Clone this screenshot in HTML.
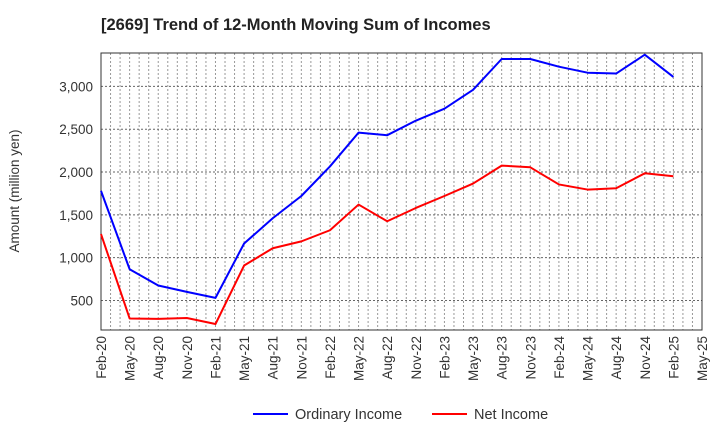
<!DOCTYPE html>
<html><head><meta charset="utf-8"><style>
body{margin:0;background:#fff;font-family:"Liberation Sans",Arial,sans-serif}
svg text{font-family:"Liberation Sans",Arial,sans-serif}
</style></head><body>
<svg width="720" height="440">
<text x="101" y="30" font-size="16.5" font-weight="bold" fill="#222">[2669]  Trend of 12-Month Moving Sum of Incomes</text>
<g id="grid"></g><g id="axes"></g><g id="series"></g>
<text transform="translate(19,191) rotate(-90)" text-anchor="middle" font-size="13.5" fill="#333">Amount (million yen)</text>
<g>
<line x1="253" y1="414" x2="288" y2="414" stroke="#0000ff" stroke-width="2"/>
<text x="295" y="419" font-size="14.5" fill="#333">Ordinary Income</text>
<line x1="432" y1="414" x2="467" y2="414" stroke="#ff0000" stroke-width="2"/>
<text x="474" y="419" font-size="14.5" fill="#333">Net Income</text>
</g>
</svg>
<script>
const categories=["Feb-20","May-20","Aug-20","Nov-20","Feb-21","May-21","Aug-21","Nov-21","Feb-22","May-22","Aug-22","Nov-22","Feb-23","May-23","Aug-23","Nov-23","Feb-24","May-24","Aug-24","Nov-24","Feb-25","May-25"];
const ordinaryIncome=[1780,865,675,600,530,1165,1460,1720,2065,2460,2430,2600,2740,2960,3320,3320,3230,3160,3150,3370,3110];
const netIncome=[1275,290,285,295,225,908,1110,1190,1320,1620,1425,1580,1720,1865,2075,2055,1855,1795,1810,1985,1950];
const yTicks=[500,1000,1500,2000,2500,3000];
const yTickLabels=["500","1,000","1,500","2,000","2,500","3,000"];
const L=101,R=702,T=53,B=330,yMin=155,yMax=3390;
const NS="http://www.w3.org/2000/svg";
const xs=i=>L+(R-L)*i/(categories.length-1);
const ys=v=>B-(v-yMin)/(yMax-yMin)*(B-T);
function mk(tag,attrs,parent){const e=document.createElementNS(NS,tag);for(const k in attrs)e.setAttribute(k,attrs[k]);document.getElementById(parent).appendChild(e);return e;}
const nMonths=(categories.length-1)*3;
for(let m=1;m<nMonths;m++){const x=L+(R-L)*m/nMonths;
const g=mk("line",{x1:x,x2:x,y1:T,y2:B,stroke:"#999","stroke-dasharray":"2,2","stroke-width":1},"grid");

}
yTicks.forEach((v,i)=>{const y=ys(v);
const g=mk("line",{x1:L,x2:R,y1:y,y2:y,stroke:"#666","stroke-dasharray":"2,2","stroke-width":1},"grid");


const t=mk("text",{x:L-8,y:y+5,"text-anchor":"end","font-size":13.5,fill:"#333"},"axes");t.textContent=yTickLabels[i];

});
categories.forEach((c,i)=>{const x=xs(i);
const t=mk("text",{transform:`translate(${x+5},${B+6}) rotate(-90)`,"text-anchor":"end","font-size":13.5,fill:"#333"},"axes");t.textContent=c;

});
const fr=mk("rect",{x:L,y:T,width:R-L,height:B-T,fill:"none",stroke:"#333","stroke-width":1},"axes");


function line(arr,color,name){const p=mk("polyline",{points:arr.map((v,i)=>xs(i)+","+ys(v)).join(" "),fill:"none",stroke:color,"stroke-width":2,"stroke-linejoin":"round"},"series");

}
line(ordinaryIncome,"#0000ff","ordinary-income-line");
line(netIncome,"#ff0000","net-income-line");
</script>
</body></html>
